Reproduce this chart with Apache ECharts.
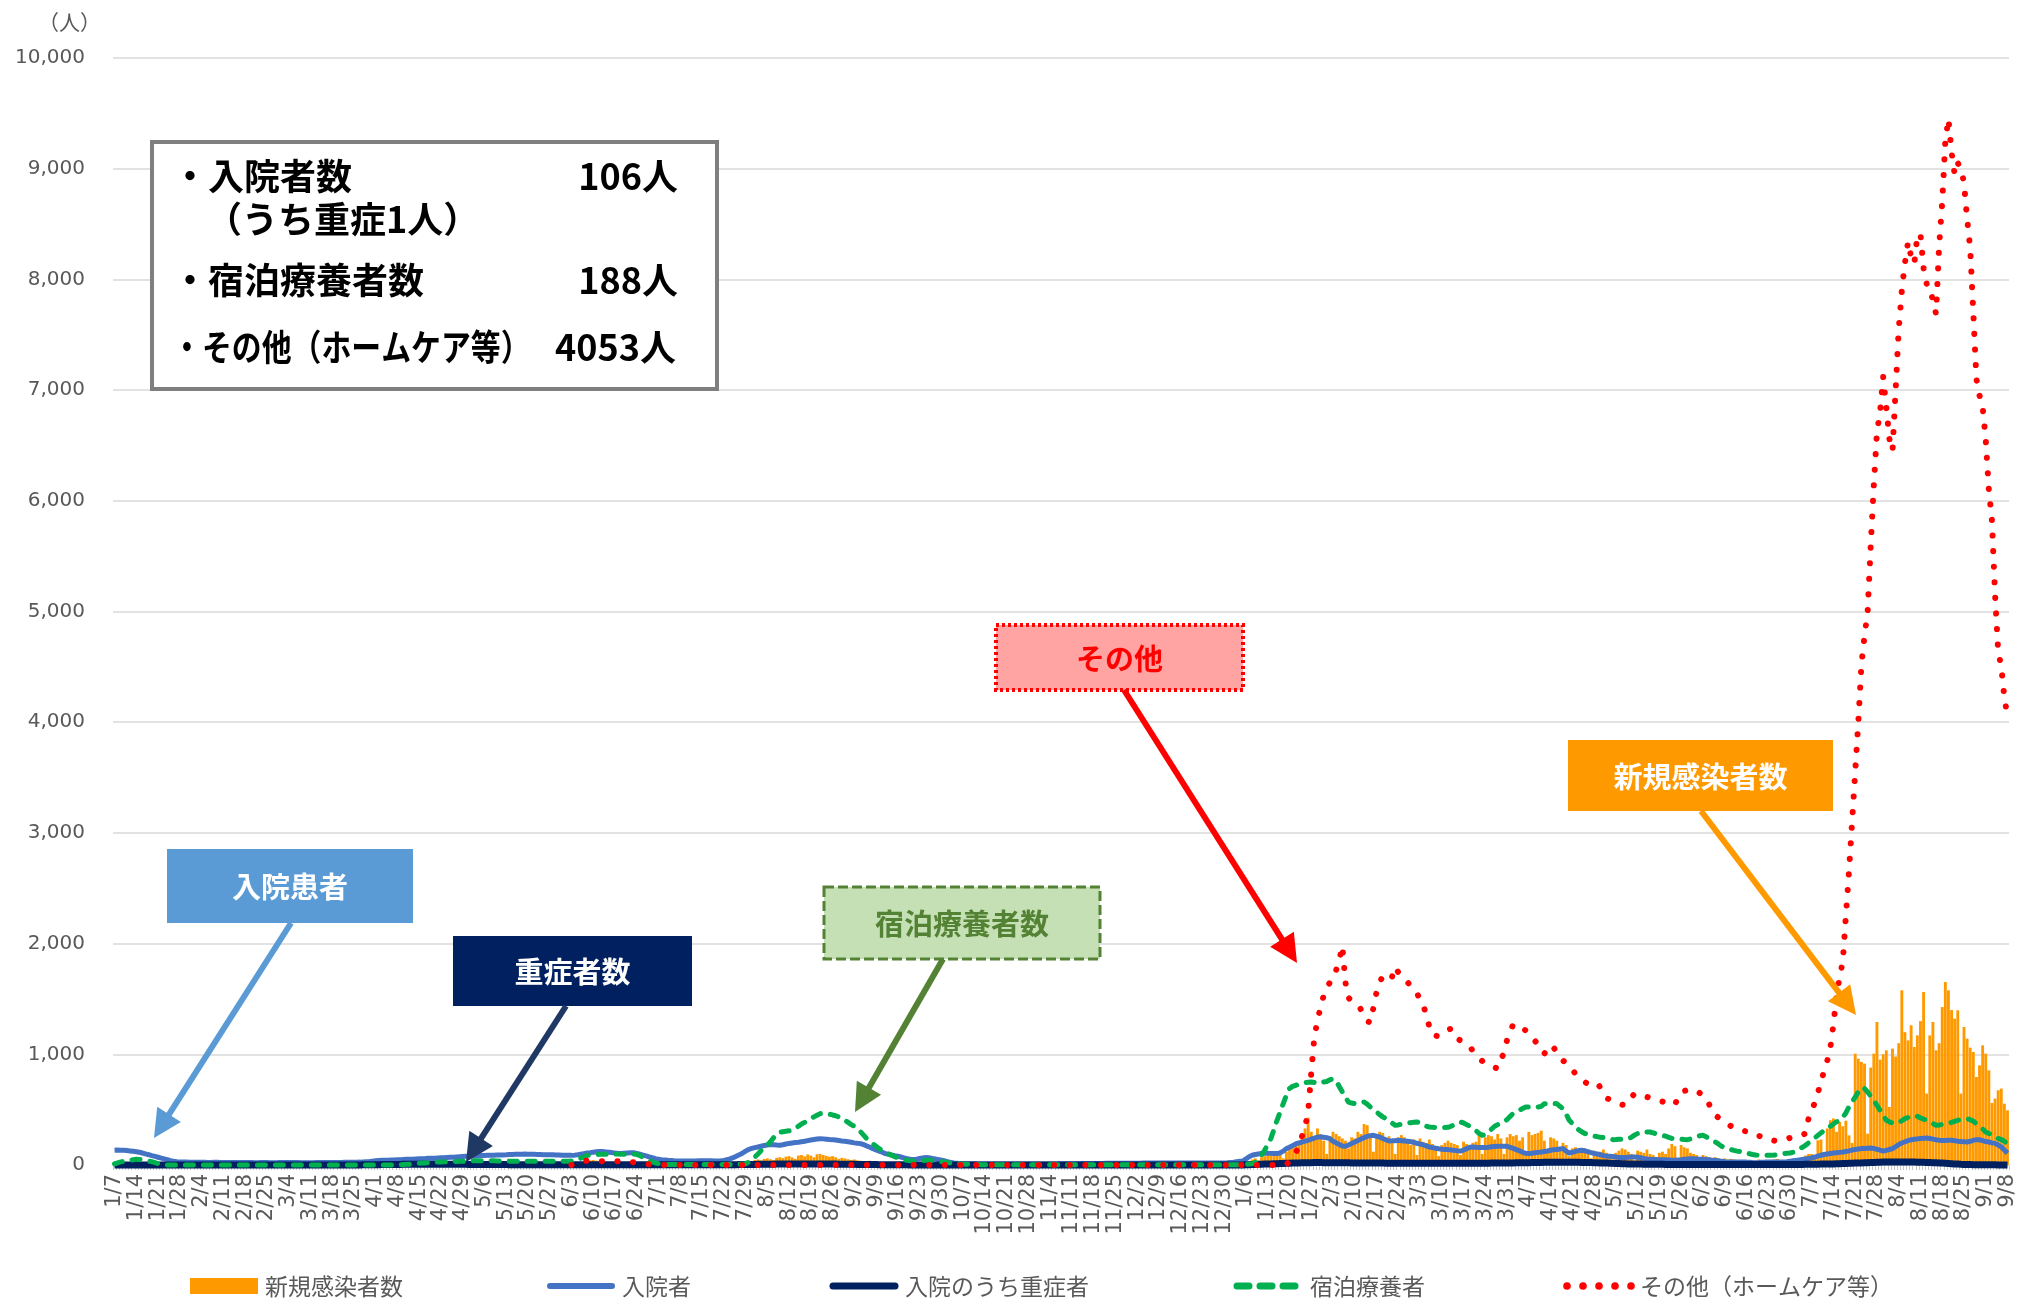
<!DOCTYPE html>
<html><head><meta charset="utf-8">
<script src="https://cdn.jsdelivr.net/npm/echarts@6/dist/echarts.min.js"></script>
<style>html,body{margin:0;padding:0;background:#fff}#c{width:2018px;height:1299px}</style>
</head><body><div id="c"></div>
<script>
const weekLabels = ['1/7','1/14','1/21','1/28','2/4','2/11','2/18','2/25','3/4','3/11','3/18','3/25','4/1','4/8','4/15','4/22','4/29','5/6','5/13','5/20','5/27','6/3','6/10','6/17','6/24','7/1','7/8','7/15','7/22','7/29','8/5','8/12','8/19','8/26','9/2','9/9','9/16','9/23','9/30','10/7','10/14','10/21','10/28','11/4','11/11','11/18','11/25','12/2','12/9','12/16','12/23','12/30','1/6','1/13','1/20','1/27','2/3','2/10','2/17','2/24','3/3','3/10','3/17','3/24','3/31','4/7','4/14','4/21','4/28','5/5','5/12','5/19','5/26','6/2','6/9','6/16','6/23','6/30','7/7','7/14','7/21','7/28','8/4','8/11','8/18','8/25','9/1','9/8'];

const seriesNames = ['新規感染者数','入院者','入院のうち重症者','宿泊療養者','その他（ホームケア等）'];

// 新規感染者数 (daily, one line per week)
const newCases = [
0,0,0,0,0,0,0,
0,0,0,0,0,0,0,
0,0,0,0,0,0,0,
0,0,0,0,0,0,0,
0,0,0,0,0,0,0,
0,0,0,0,0,0,0,
0,0,0,0,0,0,0,
0,0,0,0,0,0,0,
0,0,0,0,0,0,0,
0,1,0,2,1,0,3,
2,3,1,4,2,5,3,
4,6,5,8,7,10,6,
9,12,8,14,10,15,11,
13,16,12,18,14,17,12,
15,12,14,10,13,11,9,
10,8,11,7,9,6,8,
7,5,8,4,6,5,3,
4,3,5,2,3,2,1,
2,1,3,1,2,1,2,
1,2,3,2,1,3,2,
4,3,5,6,4,8,5,
10,15,20,25,30,38,42,
45,40,35,30,25,20,18,
15,20,18,15,12,10,8,
6,5,4,3,4,3,2,
3,2,4,3,2,5,3,
4,3,5,4,6,5,3,
6,5,8,7,10,8,6,
12,10,15,18,14,20,25,
30,40,35,45,50,42,55,
60,52,45,65,70,62,75,
80,68,55,85,90,78,95,
85,70,97,100,90,82,75,
80,70,55,65,60,52,45,
50,42,38,35,30,38,22,
28,25,20,24,15,12,18,
15,10,12,10,8,6,10,
8,6,7,5,4,6,3,
4,3,5,2,3,4,2,
3,2,4,3,2,3,1,
2,3,1,2,4,2,1,
3,2,2,4,3,2,1,
2,3,4,3,2,5,3,
4,3,5,4,6,5,3,
5,6,4,7,5,6,4,
6,5,7,8,6,7,5,
7,6,8,9,7,8,6,
8,7,9,10,8,9,7,
9,8,10,11,9,10,8,
10,9,11,12,10,11,8,
11,10,12,13,11,12,9,
12,14,15,16,18,20,20,
20,30,50,60,40,70,80,
90,100,85,110,95,60,120,
150,160,200,180,250,330,428,
300,260,330,280,220,100,260,
300,280,260,240,220,150,250,
240,300,280,370,360,250,120,
280,300,290,230,260,210,100,
250,270,250,220,180,230,90,
240,210,200,230,190,170,80,
180,200,220,200,190,180,90,
210,190,170,200,210,280,100,
250,270,260,230,280,240,100,
250,280,260,270,220,250,120,
300,270,280,290,310,220,110,
250,240,220,150,200,180,80,
150,160,140,120,150,130,60,
130,100,120,140,110,90,50,
110,130,150,140,120,100,40,
130,120,110,140,100,90,40,
110,120,100,150,190,170,60,
180,160,150,110,100,90,40,
90,80,70,60,70,60,30,
60,50,55,50,45,40,20,
40,45,35,40,50,45,20,
40,45,50,55,40,30,25,
45,50,50,60,70,85,100,
100,60,223,230,110,330,404,
420,300,389,350,400,268,200,
1006,960,931,916,283,880,1006,
1292,952,1000,1036,524,1051,980,
1100,1578,1200,1126,1262,1066,1171,
1300,1563,645,1171,1292,1036,1100,
1427,1653,1578,1400,1322,1397,645,
1247,1141,1060,1021,795,900,1081,
1006,855,560,600,675,690,554,
494];

// 入院者
const hospitalized = [
133,135,134,133,130,127,124,
120,115,108,100,93,85,78,
70,62,55,48,40,34,30,
28,27,26,25,25,24,24,
24,24,23,23,24,24,23,
23,23,22,22,22,23,23,
22,22,22,21,21,22,22,
22,21,21,21,22,22,22,
22,22,22,22,21,21,21,
21,21,22,22,22,22,23,
23,23,23,23,24,24,24,
24,25,26,28,30,32,35,
38,40,42,43,44,45,46,
47,48,50,51,52,53,55,
56,57,58,60,61,62,64,
65,66,68,69,70,72,74,
76,78,80,81,82,83,85,
86,87,88,89,90,90,91,
92,94,95,96,97,98,99,
98,97,96,95,94,93,93,
92,92,91,90,89,88,88,
87,89,93,98,103,108,111,
116,120,123,121,118,115,112,
108,106,105,107,109,111,110,
105,98,90,82,74,66,58,
52,48,45,42,40,38,37,
36,36,36,37,37,37,38,
38,38,38,38,37,37,38,
42,48,56,66,79,92,106,
125,140,150,157,163,170,176,
181,184,183,180,178,183,190,
195,199,203,206,210,214,220,
226,231,235,238,236,233,230,
229,225,221,217,214,210,205,
200,196,193,184,172,160,148,
137,126,115,103,97,90,84,
79,72,65,58,52,49,53,
58,63,67,65,60,55,49,
44,38,30,24,18,16,14,
13,12,12,11,11,10,10,
10,10,9,9,9,10,10,
10,10,10,9,9,9,9,
9,9,9,9,10,10,10,
10,10,10,11,11,11,12,
12,12,12,13,13,13,13,
14,14,14,14,15,15,15,
15,15,15,16,16,16,16,
16,16,17,17,17,17,18,
18,18,18,18,18,18,18,
18,18,17,17,17,17,17,
17,17,17,17,17,18,18,
18,20,23,26,30,33,36,
55,75,88,95,100,105,108,
107,105,103,103,110,125,148,
160,175,190,199,207,215,223,
233,243,253,252,250,247,238,
214,200,185,172,169,180,195,
208,220,235,247,258,265,268,
260,253,240,228,217,218,220,
223,220,217,214,210,205,196,
190,182,173,162,157,152,147,
143,140,139,136,132,128,126,
135,148,160,163,160,157,157,
157,160,164,168,169,169,169,
169,160,150,139,128,115,105,
103,106,110,114,117,122,127,
133,137,139,145,148,125,108,
115,124,130,133,128,120,112,
105,100,93,85,80,78,76,
72,68,67,68,70,72,73,
70,66,60,55,51,50,49,
48,48,47,45,42,42,45,
48,52,55,57,56,54,52,
51,49,47,44,42,38,33,
30,28,27,27,27,27,27,
26,24,22,21,22,24,26,
27,27,27,27,27,28,30,
33,38,42,46,50,54,58,
65,72,80,88,95,100,104,
108,111,114,117,122,128,135,
140,144,148,150,152,154,150,
142,135,126,132,140,148,165,
185,199,210,220,228,232,236,
240,242,244,240,234,228,223,
222,222,223,223,220,215,212,
210,208,214,222,229,228,220,
212,208,200,195,180,163,135,
106];

// 入院のうち重症者
const severe = [
0,0,0,0,0,0,0,
0,0,0,0,0,0,0,
0,0,0,0,0,0,0,
0,0,0,0,0,0,0,
0,0,0,0,0,0,0,
0,0,0,0,0,0,0,
0,0,0,0,0,0,0,
0,0,0,0,0,0,0,
0,0,0,0,0,0,0,
0,0,0,0,0,0,0,
0,0,0,0,0,0,0,
1,1,1,2,2,2,3,
3,3,4,4,4,5,5,
5,5,6,6,6,6,7,
7,7,7,7,7,7,7,
7,7,7,6,6,6,6,
6,6,5,5,5,5,5,
5,5,4,4,4,4,4,
4,3,3,3,3,3,3,
3,3,3,2,2,2,2,
2,2,2,2,2,2,2,
2,2,2,2,2,2,2,
2,2,2,2,2,2,2,
2,2,2,2,2,2,2,
2,2,2,2,2,2,2,
2,2,2,2,2,2,2,
2,2,2,2,2,2,2,
2,2,2,2,2,2,2,
2,2,3,3,3,4,4,
4,5,5,5,6,6,6,
7,7,7,8,8,8,8,
8,8,9,9,9,9,9,
9,9,9,9,9,8,8,
8,8,7,7,7,6,6,
6,5,5,5,4,4,4,
4,3,3,3,3,2,2,
2,2,2,2,1,1,1,
1,1,1,1,1,1,1,
1,1,1,1,1,1,1,
1,1,1,1,1,1,1,
1,1,1,1,1,1,1,
1,1,1,1,1,1,1,
1,1,1,1,1,1,1,
1,1,1,1,1,1,1,
1,1,1,1,1,1,1,
1,1,1,1,1,1,1,
1,1,1,1,1,1,1,
1,1,1,1,1,1,1,
1,1,1,1,1,1,1,
1,1,1,1,1,1,1,
1,1,1,1,1,1,1,
1,1,1,1,1,1,1,
2,3,4,5,6,7,8,
9,10,11,12,13,14,15,
16,17,18,19,20,20,21,
21,22,22,22,21,21,21,
21,21,20,20,20,20,19,
19,19,18,18,18,18,17,
17,17,17,16,16,16,16,
16,16,15,15,15,15,15,
15,15,15,15,15,15,15,
15,15,15,15,15,15,15,
15,15,15,15,15,15,16,
16,16,17,17,17,18,18,
18,19,19,20,20,20,21,
21,22,22,23,23,24,24,
24,25,25,25,25,25,25,
25,24,24,23,23,22,22,
21,20,19,18,17,16,15,
14,13,12,11,10,9,9,
8,8,7,7,7,6,6,
6,6,5,5,5,5,5,
5,5,5,5,5,5,5,
5,5,5,5,5,5,5,
5,5,5,5,5,5,5,
5,5,5,5,5,5,5,
5,5,5,5,5,5,5,
5,5,5,5,5,6,6,
6,7,7,8,8,9,9,
10,11,12,13,14,15,16,
17,18,19,20,21,22,23,
24,25,26,27,27,28,28,
28,28,27,27,26,26,25,
25,24,23,22,21,20,19,
18,16,14,12,10,8,6,
5,4,4,3,3,3,2,
2,2,2,2,1,1,1,
1];

// 宿泊療養者
const hotel = [
10,20,28,33,36,42,48,
51,50,45,40,35,30,22,
12,5,2,0,0,0,0,
0,0,0,0,0,0,0,
0,0,0,0,0,0,0,
0,0,0,0,0,0,0,
0,0,0,0,0,0,0,
0,0,0,0,0,0,0,
0,0,0,0,0,0,0,
0,0,0,0,0,0,0,
0,0,0,0,0,0,0,
0,0,0,0,0,0,0,
0,0,0,0,0,0,0,
0,2,4,6,8,10,12,
15,17,19,21,23,25,27,
28,29,30,30,31,32,33,
34,35,36,37,38,39,39,
39,39,38,38,37,37,36,
36,35,35,34,34,34,34,
34,34,33,33,33,33,33,
33,33,33,34,34,35,35,
36,40,50,62,75,85,90,
93,95,96,97,98,99,100,
100,99,98,98,99,100,99,
95,85,70,55,40,28,18,
12,8,6,5,5,5,5,
5,5,5,5,5,5,5,
5,5,5,5,5,5,5,
5,5,5,5,5,6,8,
12,25,50,72,100,130,155,
178,210,245,284,295,300,305,
309,313,330,350,370,385,404,
420,435,450,464,468,465,460,
452,445,435,425,404,385,365,
350,330,300,270,238,215,190,
170,148,130,115,100,88,75,
65,55,48,42,38,36,36,
38,40,42,42,40,36,32,
30,27,22,18,15,12,10,
8,7,6,5,4,4,3,
3,3,3,3,3,3,3,
3,3,3,3,3,3,3,
3,3,3,3,3,3,3,
3,3,3,3,3,3,3,
3,3,3,3,3,3,3,
3,3,3,3,3,3,3,
3,3,3,3,3,3,3,
3,3,3,3,3,3,3,
3,3,3,3,3,3,3,
3,3,3,3,3,3,3,
3,3,3,3,3,3,3,
3,3,3,3,3,3,3,
5,8,12,25,50,90,133,
185,238,320,404,480,555,630,
690,710,720,730,740,745,748,
750,745,735,740,750,755,770,
780,760,710,660,610,569,560,
555,555,560,569,550,525,500,
480,455,435,419,400,380,359,
362,368,374,378,382,386,389,
380,365,350,343,340,339,338,
338,338,340,350,365,380,389,
380,365,350,338,310,285,268,
275,300,325,350,365,374,389,
410,440,465,479,495,510,524,
524,524,524,524,530,554,554,
555,556,554,530,509,460,404,
375,345,320,300,285,275,268,
262,256,250,247,240,235,229,
230,232,234,236,238,250,270,
285,298,298,298,298,290,280,
272,268,260,250,240,238,236,
233,230,229,235,245,255,265,
268,255,240,225,208,190,170,
155,148,140,132,125,120,117,
110,102,95,90,88,88,88,
88,88,90,95,100,103,106,
108,115,126,145,160,178,200,
220,245,268,290,310,329,350,
370,390,404,430,470,524,570,
614,660,700,690,660,620,584,
540,494,450,404,390,380,374,
385,400,419,430,440,449,440,
425,415,404,390,375,359,362,
366,370,374,385,395,404,410,
415,419,410,395,374,350,325,
298,285,270,253,240,230,215,
188];

// その他（ホームケア等） — no data before 6/3 of the first year
const other = [
null,null,null,null,null,null,null,
null,null,null,null,null,null,null,
null,null,null,null,null,null,null,
null,null,null,null,null,null,null,
null,null,null,null,null,null,null,
null,null,null,null,null,null,null,
null,null,null,null,null,null,null,
null,null,null,null,null,null,null,
null,null,null,null,null,null,null,
null,null,null,null,null,null,null,
null,null,null,null,null,null,null,
null,null,null,null,null,null,null,
null,null,null,null,null,null,null,
null,null,null,null,null,null,null,
null,null,null,null,null,null,null,
null,null,null,null,null,null,null,
null,null,null,null,null,null,null,
null,null,null,null,null,null,null,
null,null,null,null,null,null,null,
null,null,null,null,null,null,null,
null,null,null,null,null,null,null,
0,10,25,35,37,38,38,
37,36,35,34,34,33,33,
33,33,33,32,30,28,25,
22,18,14,10,6,3,2,
2,1,1,1,1,1,1,
0,0,0,0,0,0,0,
0,0,0,0,0,0,0,
0,0,0,0,0,0,0,
0,0,0,0,0,0,0,
0,0,0,0,0,0,0,
0,0,0,0,0,0,0,
0,0,0,0,0,0,0,
0,0,0,0,0,0,0,
0,0,0,0,0,0,0,
0,0,0,0,0,0,0,
0,0,0,0,0,0,0,
0,0,0,0,0,0,0,
0,0,0,0,0,0,0,
0,0,0,0,0,0,0,
0,0,0,0,0,0,0,
0,0,0,0,0,0,0,
0,0,0,0,0,0,0,
0,0,0,0,0,0,0,
0,0,0,0,0,0,0,
0,0,0,0,0,0,0,
0,0,0,0,0,0,0,
0,0,0,0,0,0,0,
0,0,0,0,0,0,0,
0,0,0,0,0,0,0,
0,0,0,0,0,0,0,
0,0,0,0,0,0,0,
0,0,0,0,0,0,0,
0,0,0,0,0,2,5,
30,70,110,170,258,340,480,
830,1160,1300,1430,1530,1600,1650,
1700,1760,1850,1980,1650,1510,1480,
1465,1440,1405,1360,1300,1285,1420,
1560,1650,1705,1690,1670,1700,1790,
1740,1710,1680,1650,1620,1590,1550,
1500,1452,1350,1250,1172,1168,1163,
1180,1200,1220,1232,1180,1140,1125,
1105,1090,1070,1030,995,970,940,
916,900,890,880,872,960,1006,
1130,1210,1271,1262,1253,1235,1215,
1195,1160,1120,1090,1040,1006,1045,
1085,1060,1020,975,945,915,895,
860,825,800,775,750,732,733,
736,740,700,640,605,590,575,
560,553,545,540,575,610,645,
640,632,624,615,605,597,588,
580,573,566,558,552,545,610,
660,670,675,678,681,675,650,
625,609,550,475,450,428,405,
389,370,352,336,322,315,309,
304,300,297,280,265,250,235,
228,224,220,218,217,225,235,
245,252,255,262,272,284,420,
500,560,650,760,846,940,1060,
1271,1530,1700,1834,2250,2650,3100,
3550,4000,4520,4780,5000,5600,6150,
6620,6800,7120,6850,6560,6450,7000,
7550,7900,8150,8340,8200,8140,8400,
8410,8100,7960,7945,7800,7690,8300,
8700,9250,9452,9150,8950,9050,9010,
8870,8550,8280,7700,7100,6950,6850,
6550,6100,5820,5150,4640,4500,4220,
4053];

const yTicks = {min: 0, max: 10000, interval: 1000};
const summaryLines = [
  {label: '・入院者数', value: '106人'},
  {label: '（うち重症1人）', value: ''},
  {label: '・宿泊療養者数', value: '188人'},
  {label: '・その他（ホームケア等）', value: '4053人'}
];
const callouts = [
  {text: '入院患者', fill: '#5B9BD5', color: '#fff'},
  {text: '重症者数', fill: '#002060', color: '#fff'},
  {text: '宿泊療養者数', fill: '#C5E0B4', color: '#548235'},
  {text: 'その他', fill: '#FFA3A3', color: '#FF0000'},
  {text: '新規感染者数', fill: '#FF9900', color: '#fff'}
];

const categories = newCases.map((_, i) => String(i));
const COL = {bar: '#FF9900', hosp: '#4472C4', sev: '#002060', hotel: '#00B050', other: '#FF0000'};
const JP = '"Noto Sans CJK JP", "Noto Sans", sans-serif';

function arrow(x1, y1, x2, y2, color) {
  const dx = x2 - x1, dy = y2 - y1, L = Math.hypot(dx, dy), ux = dx / L, uy = dy / L;
  const hl = 28, hw = 14;
  const bx = x2 - ux * hl, by = y2 - uy * hl, px = -uy, py = ux;
  return [
    {type: 'line', z: 100, shape: {x1, y1, x2: bx + ux * 3, y2: by + uy * 3}, style: {stroke: color, lineWidth: 6}},
    {type: 'polygon', z: 100, shape: {points: [[x2, y2], [bx + px * hw, by + py * hw], [bx - px * hw, by - py * hw]]}, style: {fill: color}}
  ];
}
function txt(text, x, y, font, fill, align, extra) {
  return Object.assign({type: 'text', z: 102, x, y, style: {text, font, fill, align: align || 'left', textAlign: align || 'left', verticalAlign: 'middle', textVerticalAlign: 'middle'}}, extra || {});
}

const g = [];
g.push(txt('（人）', 38, 22, '21px ' + JP, '#595959'));
g.push({type: 'rect', z: 100, shape: {x: 152, y: 142, width: 565, height: 247}, style: {fill: '#fff', stroke: '#7F7F7F', lineWidth: 4}});
const sumFont = 'bold 36px ' + JP;
g.push(txt(summaryLines[0].label, 172, 176, sumFont, '#000'));
g.push(txt(summaryLines[0].value, 678, 176, sumFont, '#000', 'right'));
g.push(txt(summaryLines[1].label, 206, 219, sumFont, '#000'));
g.push(txt(summaryLines[2].label, 172, 280, sumFont, '#000'));
g.push(txt(summaryLines[2].value, 678, 280, sumFont, '#000', 'right'));
g.push(txt(summaryLines[3].label, 172, 347, sumFont, '#000', 'left', {scaleX: 0.83}));
g.push(txt(summaryLines[3].value, 676, 347, sumFont, '#000', 'right'));

const boxGeo = [[167, 849, 246, 74], [453, 936, 239, 70], [824, 887, 276, 72], [996, 625, 247, 65], [1568, 740, 265, 71]];
const boxStroke = [null, null, {stroke: '#548235', lineWidth: 3, lineDash: [10, 4]}, {stroke: '#FF0000', lineWidth: 4, lineDash: [3, 3]}, null];
callouts.forEach((c, k) => {
  const [x, y, w, h] = boxGeo[k];
  g.push({type: 'rect', z: 100, shape: {x, y, width: w, height: h}, style: Object.assign({fill: c.fill}, boxStroke[k] || {})});
  g.push(txt(c.text, x + w / 2, y + h / 2 + 1, 'bold 29px ' + JP, c.color, 'center'));
});
g.push(...arrow(291, 923, 154, 1138, '#5B9BD5'));
g.push(...arrow(566, 1006, 466, 1162, '#203864'));
g.push(...arrow(943, 959, 855, 1112, '#548235'));
g.push(...arrow(1124, 690, 1297, 963, '#FF0000'));
g.push(...arrow(1701, 811, 1856, 1015, '#FF9900'));

const LY = 1286, legFont = '23px ' + JP;
g.push({type: 'rect', z: 100, shape: {x: 190, y: LY - 8, width: 68, height: 16}, style: {fill: COL.bar}});
g.push(txt(seriesNames[0], 265, LY, legFont, '#595959'));
g.push({type: 'line', z: 100, shape: {x1: 550, y1: LY, x2: 612, y2: LY}, style: {stroke: COL.hosp, lineWidth: 6, lineCap: 'round'}});
g.push(txt(seriesNames[1], 622, LY, legFont, '#595959'));
g.push({type: 'line', z: 100, shape: {x1: 833, y1: LY, x2: 895, y2: LY}, style: {stroke: COL.sev, lineWidth: 7, lineCap: 'round'}});
g.push(txt(seriesNames[2], 905, LY, legFont, '#595959'));
[[1237, 1249], [1260, 1272], [1283, 1295]].forEach(s => g.push({type: 'line', z: 100, shape: {x1: s[0], y1: LY, x2: s[1], y2: LY}, style: {stroke: COL.hotel, lineWidth: 7, lineCap: 'round'}}));
g.push(txt(seriesNames[3], 1310, LY, legFont, '#595959'));
[1567, 1583, 1599, 1615, 1631].forEach(cx => g.push({type: 'circle', z: 100, shape: {cx, cy: LY, r: 3.8}, style: {fill: COL.other}}));
g.push(txt(seriesNames[4], 1640, LY, legFont, '#595959'));

const lens = [newCases, hospitalized, severe, hotel, other].map(a => a.length);
if (lens.some(l => l !== 610)) g.push(txt('LEN ' + lens.join(','), 800, 30, '20px sans-serif', '#f00'));

const chart = echarts.init(document.getElementById('c'), null, {renderer: 'canvas'});
chart.setOption({
  animation: false,
  backgroundColor: '#fff',
  grid: {left: 113, right: 8, top: 58, bottom: 134, containLabel: false},
  xAxis: {
    type: 'category', data: categories, boundaryGap: true,
    axisLine: {show: true, lineStyle: {color: '#d9d9d9', width: 1}},
    axisTick: {show: true, interval: 0, length: 5, lineStyle: {color: '#c8c8c8'}},
    axisLabel: {interval: 6, rotate: 90, margin: 9, fontSize: 21, color: '#595959', fontFamily: 'DejaVu Sans',
      formatter: (v, i) => (i % 7 === 0 ? weekLabels[i / 7] : '')}
  },
  yAxis: {
    type: 'value', min: yTicks.min, max: yTicks.max, interval: yTicks.interval,
    axisLine: {show: false}, axisTick: {show: false},
    axisLabel: {margin: 28, fontSize: 20, color: '#595959', fontFamily: 'DejaVu Sans', formatter: v => v.toLocaleString('en-US')},
    splitLine: {lineStyle: {color: '#d9d9d9', width: 1.5}}
  },
  graphic: {elements: g},
  series: [
    {name: seriesNames[0], type: 'bar', data: newCases, barCategoryGap: '8%', itemStyle: {color: COL.bar}, z: 1},
    {name: seriesNames[1], type: 'line', data: hospitalized, symbol: 'none', clip: false, lineStyle: {color: COL.hosp, width: 5, join: 'round'}, z: 3},
    {name: seriesNames[2], type: 'line', data: severe, symbol: 'none', clip: false, lineStyle: {color: COL.sev, width: 7, join: 'round'}, z: 4},
    {name: seriesNames[3], type: 'line', data: hotel, symbol: 'none', clip: false, lineStyle: {color: COL.hotel, width: 5, type: [8, 10], cap: 'round', join: 'round'}, z: 5},
    {name: seriesNames[4], type: 'line', data: other, symbol: 'none', clip: false, lineStyle: {color: COL.other, width: 6, type: [0.1, 15.5], cap: 'round', join: 'round'}, z: 6}
  ]
});
</script>
</body></html>
